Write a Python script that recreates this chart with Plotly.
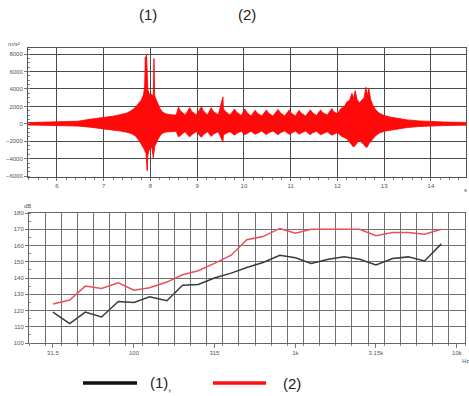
import plotly.graph_objects as go

# ---------------- time signal envelope ----------------
sig_t = [5.38, 5.60, 5.90, 6.20, 6.45, 6.70, 6.90, 7.05, 7.20, 7.35, 7.50, 7.60, 7.68, 7.74,
         7.80, 7.85, 7.875, 7.89, 7.90, 7.915, 7.93, 7.945, 7.97, 8.00, 8.03, 8.06, 8.075, 8.09,
         8.12, 8.16, 8.20, 8.25, 8.32, 8.42, 8.55,
         8.60, 8.64, 8.74, 8.84, 8.88, 8.98, 9.09, 9.13, 9.22, 9.30, 9.34, 9.45,
         9.55, 9.56, 9.60, 9.70, 9.80, 9.84, 9.94, 10.02, 10.06, 10.15, 10.24, 10.28, 10.38,
         10.48, 10.52, 10.62, 10.73, 10.77, 10.87, 10.97, 11.01, 11.10, 11.18, 11.22, 11.32,
         11.42, 11.46, 11.55, 11.64, 11.68, 11.78, 11.88, 11.92, 12.00,
         12.08, 12.14, 12.20, 12.26, 12.31, 12.34, 12.38, 12.42, 12.47, 12.52, 12.57, 12.61,
         12.64, 12.67, 12.71, 12.76, 12.82, 12.90, 13.00, 13.15, 13.30, 13.50, 13.75, 14.00,
         14.30, 14.75]
sig_up = [140, 160, 170, 230, 300, 520, 650, 760, 880, 1050, 1250, 1550, 1900, 2300,
          2700, 3300, 4300, 7700, 4600, 8000, 5200, 3900, 3500, 3300, 3400, 3100, 7500, 3200,
          2800, 2300, 1800, 1400, 1150, 1050, 1000,
          1900, 1500, 1000, 1850, 1450, 1000, 1950, 1500, 1000, 1850, 1450, 1000,
          3100, 1700, 1450, 1000, 1700, 1350, 950, 1700, 1300, 900, 1550, 1250, 900,
          1600, 1250, 900, 1650, 1300, 900, 1600, 1250, 900, 1550, 1250, 900,
          1600, 1300, 950, 1600, 1300, 1000, 1750, 1400, 1150,
          1800, 1900, 2500, 2700, 3500, 2900, 3800, 2800, 2400, 2700, 3000, 4200,
          3200, 4100, 2800, 2100, 1600, 1200, 950, 750, 600, 450, 330, 260,
          200, 160]
sig_lo = [-140, -150, -160, -210, -260, -380, -480, -600, -700, -820, -980, -1150, -1400, -1800,
          -2300, -2700, -3000, -3300, -3000, -4300, -5400, -3600, -3000, -2800, -2700, -3900, -3300, -2600,
          -2200, -1800, -1400, -1100, -950, -900, -850,
          -1500, -1300, -900, -1500, -1250, -900, -1550, -1250, -900, -1450, -1200, -900,
          -2100, -1300, -1150, -900, -1300, -1100, -850, -1250, -1100, -850, -1200, -1050, -820,
          -1250, -1050, -820, -1250, -1050, -820, -1200, -1050, -820, -1200, -1050, -830,
          -1250, -1050, -850, -1250, -1100, -900, -1300, -1150, -1000,
          -1400, -1500, -1700, -2100, -2400, -2650, -2500, -2200, -1900, -2100, -2400, -2700,
          -2650, -2300, -2000, -1700, -1350, -1050, -850, -700, -560, -420, -310, -240,
          -190, -150]

# ---------------- third-octave spectra ----------------
bands_hz = [31.5, 40, 50, 63, 80, 100, 125, 160, 200, 250, 315, 400, 500, 630, 800,
            1000, 1250, 1600, 2000, 2500, 3150, 4000, 5000, 6300, 8000]
level_1 = [119, 112, 119, 116, 125.5, 125, 128.5, 126, 135.5, 136, 140, 143, 146.5, 149.5, 154,
           152.5, 149, 151.5, 153, 151.5, 148, 152, 153, 150.5, 161]
level_2 = [124, 126.5, 135, 133.5, 137, 132.5, 134, 137.5, 142, 144.5, 149, 154, 163.5, 165.5, 170.5,
           167.5, 170, 170, 170, 170, 166, 168, 168, 167, 170]

t_ticks = [6, 7, 8, 9, 10, 11, 12, 13, 14]
a_ticks = [-6000, -4000, -2000, 0, 2000, 4000, 6000, 8000]
f_tickvals = [31.5, 100, 315, 1000, 3150, 10000]
f_ticktext = ["31.5", "100", "315", "1k", "3.15k", "10k"]
db_ticks = [100, 110, 120, 130, 140, 150, 160, 170, 180]

W, H = 469, 396
def px_x(p): return p / W
def px_y(p): return 1 - p / H

fig = go.Figure()

fig.add_trace(go.Scatter(
    x=sig_t + sig_t[::-1], y=sig_up + sig_lo[::-1],
    fill="toself", fillcolor="#ff0a0a", mode="lines",
    line=dict(color="#ff0000", width=0.8), xaxis="x", yaxis="y", showlegend=False,
    hoverinfo="skip"))

fig.add_trace(go.Scatter(x=bands_hz, y=level_1, mode="lines",
                         line=dict(color="#3a3a3a", width=1.5), xaxis="x2", yaxis="y2",
                         showlegend=False))
fig.add_trace(go.Scatter(x=bands_hz, y=level_2, mode="lines",
                         line=dict(color="#e9505a", width=1.5), xaxis="x2", yaxis="y2",
                         showlegend=False))

# band edges for the spectrum grid (1/10 decade)
edges = [10 ** (1.35 + 0.1 * k) for k in range(28)]

tickfont = dict(family="Liberation Sans, Arial, sans-serif", size=6, color="#555")

fig.update_layout(
    width=W, height=H,
    margin=dict(l=0, r=0, t=0, b=0),
    paper_bgcolor="white", plot_bgcolor="white",
    font=dict(family="Liberation Sans, Arial, sans-serif"),
    xaxis=dict(domain=[px_x(28), px_x(466)], range=[5.38, 14.75], anchor="y",
               tickvals=t_ticks, showgrid=True, gridcolor="#4a4a4a", gridwidth=1,
               showline=True, mirror=True, linecolor="#555", linewidth=1,
               ticks="outside", ticklen=3, tickcolor="#777", tickfont=tickfont,
               minor=dict(dtick=0.2, ticks="outside", ticklen=2, tickcolor="#888", showgrid=False),
               zeroline=False, automargin=False, fixedrange=True),
    yaxis=dict(domain=[px_y(177), px_y(48)], range=[-6100, 8700], anchor="x",
               tickvals=a_ticks, showgrid=True, gridcolor="#4a4a4a", gridwidth=1,
               showline=True, mirror=True, linecolor="#555", linewidth=1,
               ticks="outside", ticklen=3, tickcolor="#777", tickfont=tickfont,
               minor=dict(dtick=500, ticks="inside", ticklen=2, tickcolor="#888", showgrid=False),
               zeroline=False, automargin=False, fixedrange=True),
    xaxis2=dict(domain=[px_x(29), px_x(465)], type="log",
                range=[1.35, 4.05], anchor="y2",
                tickvals=f_tickvals, ticktext=f_ticktext, showgrid=False,
                showline=True, mirror=True, linecolor="#666", linewidth=1,
                ticks="outside", ticklen=4, tickcolor="#777", tickfont=tickfont,
                minor=dict(tickmode="array", tickvals=edges, showgrid=True, gridcolor="#707070",
                           gridwidth=1, ticks="outside", ticklen=2, tickcolor="#888"),
                zeroline=False, automargin=False, fixedrange=True),
    yaxis2=dict(domain=[px_y(343), px_y(213)], range=[100, 180], anchor="x2",
                tickvals=db_ticks, showgrid=True, gridcolor="#707070", gridwidth=1,
                showline=True, mirror=True, linecolor="#666", linewidth=1,
                ticks="outside", ticklen=3, tickcolor="#777", tickfont=tickfont,
                minor=dict(dtick=5, ticks="inside", ticklen=2, tickcolor="#888", showgrid=False),
                zeroline=False, automargin=False, fixedrange=True),
)

ann_font = dict(family="Liberation Sans, Arial, sans-serif", size=15, color="#222")
small = dict(family="Liberation Sans, Arial, sans-serif", size=6, color="#555")
annotations = [
    dict(text="(1)", x=px_x(148), y=px_y(15), font=ann_font),
    dict(text="(2)", x=px_x(247), y=px_y(15), font=ann_font),
    dict(text="m/s²", x=px_x(14), y=px_y(44), font=small),
    dict(text="s", x=px_x(465), y=px_y(190), font=small),
    dict(text="dB", x=px_x(27), y=px_y(206), font=small),
    dict(text="Hz", x=px_x(465), y=px_y(361), font=small),
    dict(text="(1)<sub>,</sub>", x=px_x(160), y=px_y(383), font=ann_font),
    dict(text="(2)", x=px_x(292), y=px_y(383), font=ann_font),
]
for a in annotations:
    a.update(xref="paper", yref="paper", showarrow=False, xanchor="center", yanchor="middle")
fig.update_layout(annotations=annotations)

fig.update_layout(shapes=[
    dict(type="line", xref="paper", yref="paper", x0=px_x(83), x1=px_x(137),
         y0=px_y(383), y1=px_y(383), line=dict(color="#111", width=3.5)),
    dict(type="line", xref="paper", yref="paper", x0=px_x(213), x1=px_x(266),
         y0=px_y(383), y1=px_y(383), line=dict(color="#ff1010", width=3.5)),
])

fig.write_html("out.html")
